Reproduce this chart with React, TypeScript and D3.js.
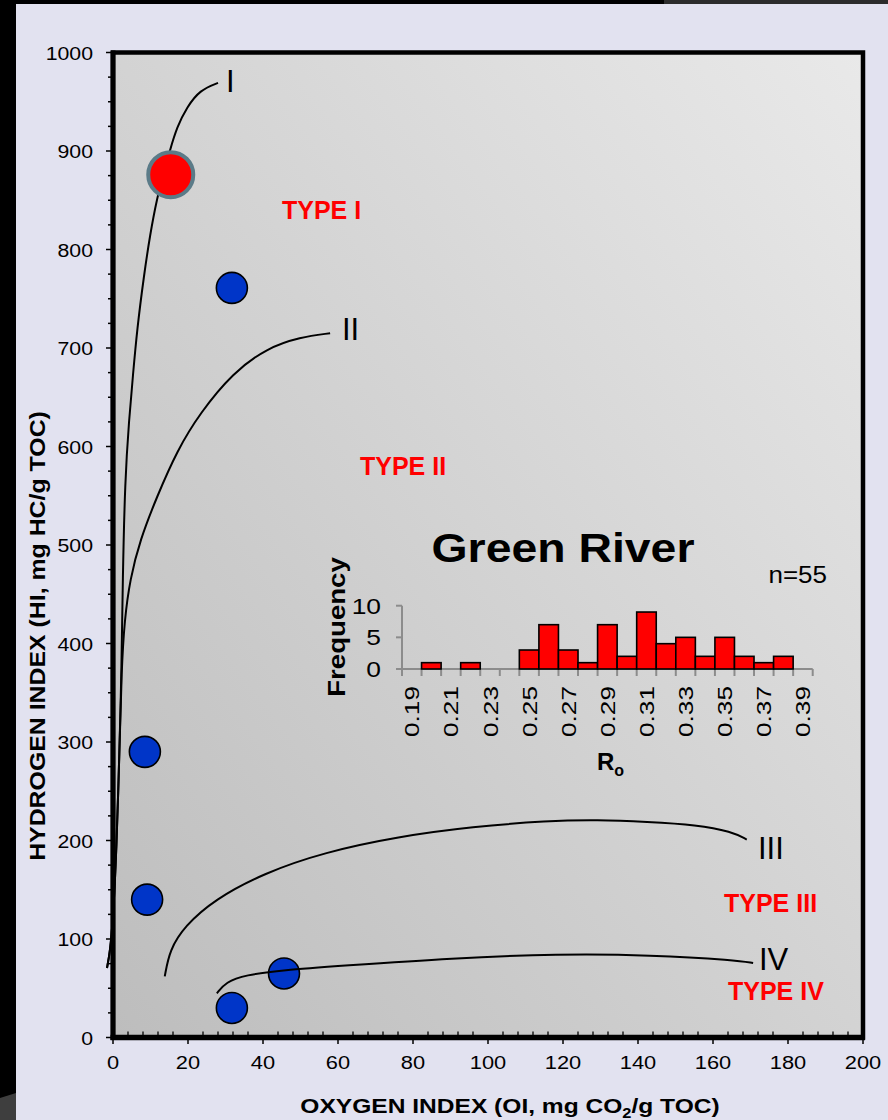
import { useEffect, useRef } from "react";
import * as d3 from "d3";

// main van krevelen style plot (pseudo, HI vs OI)
const oxygenTicks = [0, 20, 40, 60, 80, 100, 120, 140, 160, 180, 200];
const hydrogenTicks = [0, 100, 200, 300, 400, 500, 600, 700, 800, 900, 1000];

const sampleOI = [31.7, 8.5, 9.1, 45.6, 31.7];
const sampleHI = [761, 290, 140, 65, 30];

const greenRiverOI = [15.4];
const greenRiverHI = [876];

// kerogen evolution paths [OI, HI]
const curveI = [
  [-1.6, 70.6], [-0.8, 86.8], [0, 119.3], [0.93, 190.4], [1.73, 291.9], [2.27, 373.1],
  [2.59, 464.5], [3.2, 566], [4.27, 626.9], [5.33, 672.6], [6.4, 718.3], [8.27, 774.1],
  [9.87, 814.7], [11.73, 852.3], [13.47, 876.6], [15.2, 901], [17.07, 924.4],
  [19.73, 944.7], [23.2, 962], [28, 969.1],
];
const curveII = [
  [-1.6, 70.6], [-0.8, 86.8], [0, 119.3], [0.93, 190.4], [1.73, 291.9], [2.27, 373.1],
  [3.07, 424], [4.53, 465], [7.2, 505], [11.7, 549], [17.1, 596], [23.2, 634],
  [32, 675], [41.1, 700], [49.9, 711], [57.9, 715],
];
const curveIII = [
  [13.8, 62], [15.1, 89], [19.1, 113], [27, 140], [40.3, 167], [56.3, 188],
  [76.1, 204], [96, 214], [116, 220], [129.2, 221], [142.4, 219], [155.7, 216],
  [165, 209], [169, 201],
];
const curveIV = [
  [27.7, 44.9], [30.1, 56.3], [35.2, 63.4], [45.3, 68.5], [60.5, 72.6], [90.7, 80.7],
  [118.6, 84.8], [143.5, 83.8], [166.1, 78.7], [170.7, 75.6],
];

const typeLabels = ["TYPE I", "TYPE II", "TYPE III", "TYPE IV"];
const curveNames = ["I", "II", "III", "IV"];

// inset histogram
const roBins = [
  "0.19", "0.20", "0.21", "0.22", "0.23", "0.24", "0.25", "0.26", "0.27", "0.28", "0.29",
  "0.30", "0.31", "0.32", "0.33", "0.34", "0.35", "0.36", "0.37", "0.38", "0.39",
];
const roCounts = [0, 1, 0, 1, 0, 0, 3, 7, 3, 1, 7, 2, 9, 4, 5, 2, 5, 2, 1, 2, 0];
const freqTicks = [0, 5, 10];

const FONT = "'Liberation Sans', Arial, Helvetica, sans-serif";

function label(parent, x, y, str, o: any = {}) {
  return parent
    .append("text")
    .attr("transform", `translate(${x},${y}) rotate(${o.rotate || 0}) scale(${o.sx || 1},1)`)
    .attr("text-anchor", o.anchor || "start")
    .attr("font-family", FONT)
    .attr("font-size", o.size || 19)
    .attr("font-weight", o.weight || "normal")
    .attr("fill", o.fill || "#000")
    .attr("dy", o.dy || 0)
    .text(str);
}

export default function App() {
  const svgRef = useRef(null);

  useEffect(() => {
    const width = 888;
    const height = 1120;

    const svg = d3.select(svgRef.current).attr("width", width).attr("height", height);
    svg.selectAll("*").remove();

    // page background + dark edges of the screenshot
    svg.append("rect").attr("width", width).attr("height", height).attr("fill", "#e2e2f0");
    svg.append("rect").attr("x", 0).attr("y", 0).attr("width", 16).attr("height", height).attr("fill", "#000");
    svg.append("path").attr("d", "M0,1098 L16,1093 L16,1120 L0,1120 Z").attr("fill", "#3e3e3e");
    svg.append("rect").attr("x", 0).attr("y", 0).attr("width", 664).attr("height", 4).attr("fill", "#000");
    svg.append("rect").attr("x", 664).attr("y", 0).attr("width", 224).attr("height", 4).attr("fill", "#2c2c2c");

    const xScale = d3.scaleLinear().domain([0, 200]).range([113, 863]);
    const yScale = d3.scaleLinear().domain([0, 1000]).range([1037.5, 52.5]);

    const defs = svg.append("defs");
    const grad = defs
      .append("linearGradient")
      .attr("id", "plotbg")
      .attr("x1", 0).attr("y1", 1).attr("x2", 1).attr("y2", 0);
    grad.append("stop").attr("offset", "0%").attr("stop-color", "#bdbdbd");
    grad.append("stop").attr("offset", "100%").attr("stop-color", "#e9e9e9");

    const [x0, x1] = xScale.range();
    const [y0, y1] = yScale.range();

    svg
      .append("rect")
      .attr("x", x0).attr("y", y1)
      .attr("width", x1 - x0).attr("height", y0 - y1)
      .attr("fill", "url(#plotbg)")
      .attr("stroke", "#000")
      .attr("stroke-width", 4.5);

    // minor / major ticks
    const yMinor = d3.range(0, 1001, 25);
    svg.append("g").selectAll("line").data(yMinor).enter().append("line")
      .attr("x1", (d) => (d % 100 === 0 ? 106 : 108)).attr("x2", x0)
      .attr("y1", (d) => yScale(d)).attr("y2", (d) => yScale(d))
      .attr("stroke", "#000").attr("stroke-width", 1.5);

    const xMinor = d3.range(0, 201, 4).filter((d) => d % 20 !== 0);
    svg.append("g").selectAll("line").data(xMinor).enter().append("line")
      .attr("x1", (d) => xScale(d)).attr("x2", (d) => xScale(d))
      .attr("y1", y0 - 6).attr("y2", y0)
      .attr("stroke", "#000").attr("stroke-width", 1.3);
    svg.append("g").selectAll("line").data(oxygenTicks).enter().append("line")
      .attr("x1", (d) => xScale(d)).attr("x2", (d) => xScale(d))
      .attr("y1", y0).attr("y2", y0 + 6.5)
      .attr("stroke", "#000").attr("stroke-width", 1.5);

    // heavier left and bottom axes
    svg.append("line").attr("x1", x0).attr("x2", x0).attr("y1", y1 - 2).attr("y2", y0 + 2.5)
      .attr("stroke", "#000").attr("stroke-width", 5);
    svg.append("line").attr("x1", x0 - 2.5).attr("x2", x1 + 2).attr("y1", y0).attr("y2", y0)
      .attr("stroke", "#000").attr("stroke-width", 5.5);

    hydrogenTicks.forEach((t) => label(svg, 93, yScale(t) + 7, t, { anchor: "end", sx: 1.12 }));
    oxygenTicks.forEach((t) => label(svg, xScale(t), 1069, t, { anchor: "middle", sx: 1.15 }));

    // axis titles
    label(svg, 45, 636, "HYDROGEN INDEX (HI, mg HC/g TOC)", {
      rotate: -90, anchor: "middle", size: 22, weight: "bold", sx: 1.13,
    });
    const xt = label(svg, 510, 1113, "OXYGEN INDEX (OI, mg CO", {
      anchor: "middle", size: 21, weight: "bold", sx: 1.17,
    });
    xt.append("tspan").attr("font-size", 14).attr("dy", 5).text("2");
    xt.append("tspan").attr("dy", -5).text("/g TOC)");

    // samples
    svg.append("g").selectAll("circle").data(sampleOI).enter().append("circle")
      .attr("cx", (d) => xScale(d))
      .attr("cy", (d, i) => yScale(sampleHI[i]))
      .attr("r", 15.5)
      .attr("fill", "#0035c8")
      .attr("stroke", "#000")
      .attr("stroke-width", 1.6);

    // evolution paths
    const line = d3
      .line()
      .x((d) => xScale(d[0]))
      .y((d) => yScale(d[1]))
      .curve(d3.curveBasis);
    [curveI, curveII, curveIII, curveIV].forEach((c) => {
      svg.append("path").attr("d", line(c)).attr("fill", "none")
        .attr("stroke", "#000").attr("stroke-width", 2);
    });

    svg.append("g").selectAll("circle").data(greenRiverOI).enter().append("circle")
      .attr("cx", (d) => xScale(d))
      .attr("cy", (d, i) => yScale(greenRiverHI[i]))
      .attr("r", 22.5)
      .attr("fill", "#ff0000")
      .attr("stroke", "#5b7b88")
      .attr("stroke-width", 4);

    // curve names and kerogen types
    const namePos = [[226, 92], [342, 340], [758, 859], [759, 970]];
    curveNames.forEach((n, i) => label(svg, namePos[i][0], namePos[i][1], n, { size: 31 }));
    const typePos = [[282, 219], [360, 475], [724, 912], [728, 1000]];
    typeLabels.forEach((t, i) =>
      label(svg, typePos[i][0], typePos[i][1], t, { size: 25, weight: "bold", fill: "#ff0000" })
    );

    // ---- inset histogram ----
    const xb = d3.scaleBand().domain(roBins).range([402, 812.7]).padding(0);
    const yb = d3.scaleLinear().domain([0, 10]).range([669, 605.7]);
    const axisGray = "#8c8c8c";

    const hg = svg.append("g");
    hg.append("line").attr("x1", 402).attr("x2", 402).attr("y1", yb(10)).attr("y2", yb(0))
      .attr("stroke", axisGray).attr("stroke-width", 2);
    hg.append("line").attr("x1", 396).attr("x2", 812.7).attr("y1", yb(0)).attr("y2", yb(0))
      .attr("stroke", axisGray).attr("stroke-width", 2);
    freqTicks.forEach((t) => {
      hg.append("line").attr("x1", 396).attr("x2", 402).attr("y1", yb(t)).attr("y2", yb(t))
        .attr("stroke", axisGray).attr("stroke-width", 2);
      label(hg, 381, yb(t) + 8, t, { anchor: "end", size: 22, sx: 1.2 });
    });
    const edges = roBins.map((b) => xb(b)).concat([xb.range()[1]]);
    hg.selectAll(".xt").data(edges).enter().append("line")
      .attr("x1", (d) => d).attr("x2", (d) => d)
      .attr("y1", yb(0)).attr("y2", yb(0) + 7)
      .attr("stroke", axisGray).attr("stroke-width", 2);

    hg.selectAll("rect").data(roBins.filter((b, i) => roCounts[i] > 0)).enter().append("rect")
      .attr("x", (d) => xb(d))
      .attr("y", (d) => yb(roCounts[roBins.indexOf(d)]))
      .attr("width", xb.bandwidth())
      .attr("height", (d) => yb(0) - yb(roCounts[roBins.indexOf(d)]))
      .attr("fill", "#ff0000")
      .attr("stroke", "#000")
      .attr("stroke-width", 1.6);

    roBins.filter((b, i) => i % 2 === 0).forEach((b) => {
      label(hg, xb(b) + xb.bandwidth() / 2, 686, b, {
        rotate: -90, anchor: "end", size: 21, sx: 1.25, dy: "0.36em",
      });
    });

    label(hg, 563, 562, "Green River", { anchor: "middle", size: 40, weight: "bold", sx: 1.16 });
    label(hg, 827, 583, "n=55", { anchor: "end", size: 23, sx: 1.13 });
    label(hg, 345, 627, "Frequency", { rotate: -90, anchor: "middle", size: 24, weight: "bold", sx: 1.15 });
    const ro = label(hg, 597, 770, "R", { size: 24, weight: "bold" });
    ro.append("tspan").attr("font-size", 16).attr("dy", 6).text("o");
  }, []);

  return <svg ref={svgRef} style={{ position: "absolute", left: 0, top: 0 }}></svg>;
}
